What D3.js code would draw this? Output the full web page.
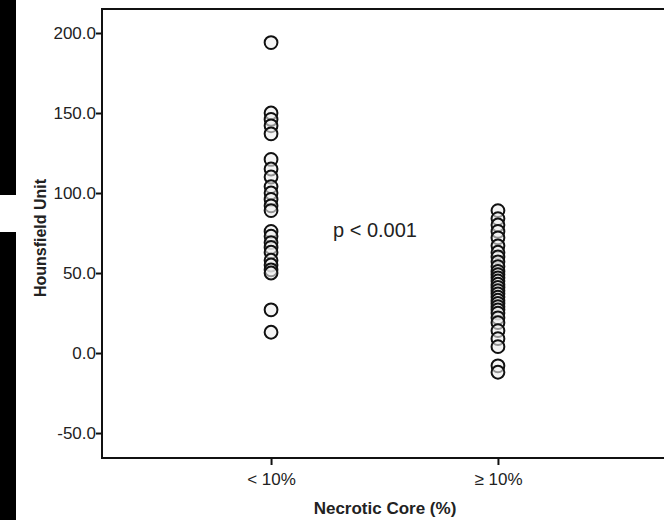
<!DOCTYPE html>
<html>
<head>
<meta charset="utf-8">
<script src="https://cdn.jsdelivr.net/npm/d3@7"></script>
<style>
  body { margin: 0; background: #fff; }
  svg { display: block; font-family: 'Liberation Sans', Arial, sans-serif; }
</style>
</head>
<body>
<div class="chart"></div>
<script>
const categories = ['< 10%', '≥ 10%'];

// Hounsfield units, per group
const lowNecrosis = [194, 150, 146, 142, 137, 121, 115, 110, 104, 100, 96, 92, 89,
  76, 73, 69, 66, 63, 58, 55, 52, 50, 27, 13];
const highNecrosis = [89, 84, 80, 76, 72, 67, 63, 60, 57, 54, 51, 49, 47, 45, 43, 41,
  39, 37, 35, 33, 31, 29, 27, 25, 22, 19, 14, 9, 4, -8, -12];

const yTicks = [-50, 0, 50, 100, 150, 200];

const width = 664;
const height = 520;
const margin = { top: 9, right: -3, bottom: 62, left: 102 };

const svg = d3
  .select('.chart')
  .append('svg')
  .attr('width', width)
  .attr('height', height);

// dark strip on the left edge of the scan
svg.append('rect').attr('x', 0).attr('y', 0).attr('width', 16).attr('height', height).attr('fill', '#000');
svg.append('rect').attr('x', 0).attr('y', 195).attr('width', 16).attr('height', 37).attr('fill', '#fff');

const xScale = d3
  .scalePoint()
  .domain(categories)
  .range([margin.left, width - margin.right])
  .padding(0.745);

const yScale = d3
  .scaleLinear()
  .domain([-65.6, 215])
  .range([height - margin.bottom, margin.top]);

const points = [
  ...lowNecrosis.map((v) => ({ cat: categories[0], v })),
  ...highNecrosis.map((v) => ({ cat: categories[1], v })),
];

// frame (right side runs off the image)
svg
  .append('path')
  .attr('d', `M${width + 10},${margin.top}H${margin.left}V${height - margin.bottom}H${width + 10}`)
  .attr('fill', 'none')
  .attr('stroke', '#111')
  .attr('stroke-width', 2);

const yAxis = d3
  .axisLeft(yScale)
  .tickValues(yTicks)
  .tickSize(6)
  .tickPadding(0)
  .tickFormat((d) => d.toFixed(1));

const yAxisGroup = svg
  .append('g')
  .attr('transform', `translate(${margin.left}, 0)`)
  .call(yAxis);

const xAxis = d3.axisBottom(xScale).tickSize(7).tickPadding(3);

const xAxisGroup = svg
  .append('g')
  .attr('transform', `translate(0, ${height - margin.bottom})`)
  .call(xAxis);

[xAxisGroup, yAxisGroup].forEach((g) => {
  g.attr('font-size', null).attr('font-family', null);
  g.select('.domain').remove();
  g.selectAll('.tick line').attr('stroke', '#111').attr('stroke-width', 2);
  g.selectAll('.tick text')
    .attr('fill', '#222')
    .style('font-size', '17px');
});
xAxisGroup.selectAll('.tick text').attr('dy', '1em');

svg
  .selectAll('circle.pt')
  .data(points)
  .enter()
  .append('circle')
  .attr('class', 'pt')
  .attr('cx', (d) => xScale(d.cat))
  .attr('cy', (d) => yScale(d.v))
  .attr('r', 6.4)
  .attr('fill', '#efefef')
  .attr('fill-opacity', 0.6)
  .attr('stroke', '#111')
  .attr('stroke-width', 2);

svg
  .append('text')
  .attr('x', 333)
  .attr('y', 237)
  .style('font-size', '20px')
  .attr('fill', '#222')
  .text('p < 0.001');

svg
  .append('text')
  .attr('x', 385)
  .attr('y', 514)
  .attr('text-anchor', 'middle')
  .style('font-size', '17px')
  .style('font-weight', 'bold')
  .attr('fill', '#222')
  .text('Necrotic Core (%)');

svg
  .append('text')
  .attr('transform', 'rotate(-90)')
  .attr('x', -238)
  .attr('y', 46)
  .attr('text-anchor', 'middle')
  .style('font-size', '16px')
  .style('font-weight', 'bold')
  .attr('fill', '#222')
  .text('Hounsfield Unit');
</script>
</body>
</html>
